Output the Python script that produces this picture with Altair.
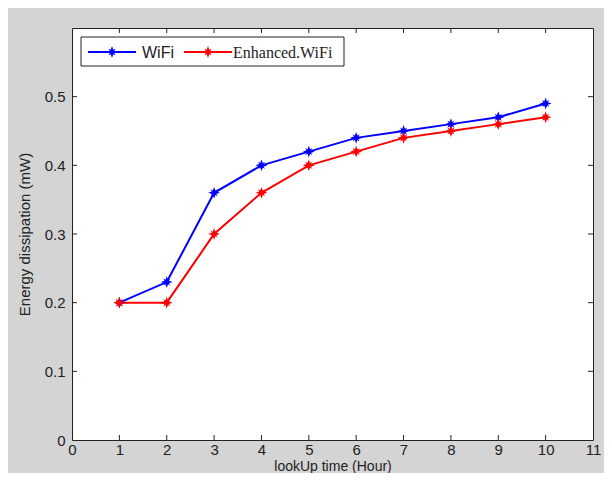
import altair as alt
import pandas as pd

# ---- data ----
hours = [1, 2, 3, 4, 5, 6, 7, 8, 9, 10]
wifi = [0.20, 0.23, 0.36, 0.40, 0.42, 0.44, 0.45, 0.46, 0.47, 0.49]
enhanced = [0.20, 0.20, 0.30, 0.36, 0.40, 0.42, 0.44, 0.45, 0.46, 0.47]
series_names = ["WiFi", "Enhanced.WiFi"]
series_colors = ["#0000ff", "#ff0000"]
x_ticks = [0, 1, 2, 3, 4, 5, 6, 7, 8, 9, 10, 11]
y_labels = [0, 0.1, 0.2, 0.3, 0.4, 0.5]
y_ticks = [0.1, 0.2, 0.3, 0.4, 0.5]

W, H = 521, 412
TICK = 5
STAR = ("M0,-1L0.22,-0.38L0.6,-0.6L0.38,-0.22L1,0L0.38,0.22L0.6,0.6L0.22,0.38"
        "L0,1L-0.22,0.38L-0.6,0.6L-0.38,0.22L-1,0L-0.38,-0.22L-0.6,-0.6L-0.22,-0.38Z")
FONT = "Liberation Sans"
MSIZE = 140

df = pd.DataFrame({
    "hour": hours * 2,
    "energy": wifi + enhanced,
    "series": [series_names[0]] * len(hours) + [series_names[1]] * len(hours),
})

xs = alt.Scale(domain=[0, 11], nice=False, zero=False)
ys = alt.Scale(domain=[0, 0.6], nice=False)
cs = alt.Scale(domain=series_names, range=series_colors)

x_axis = alt.Axis(values=x_ticks, tickSize=0, domain=False, grid=False,
                  labelPadding=2, labelAngle=0, labelFlush=False,
                  labelFont=FONT, labelFontSize=15, labelColor="#222222",
                  title="lookUp time (Hour)", titleFont=FONT, titleFontSize=14,
                  titleFontWeight="normal", titleColor="#222222",
                  titleY=33, titleBaseline="bottom")
y_axis = alt.Axis(values=y_labels, format=".1~f", tickSize=0, domain=False,
                  grid=False, labelPadding=7, labelFlush=False,
                  labelFont=FONT, labelFontSize=15, labelColor="#222222",
                  title="Energy dissipation (mW)", titleFont=FONT,
                  titleFontSize=15, titleFontWeight="normal", titleColor="#222222",
                  titleX=-48, titleY=H / 2, titleAngle=270,
                  titleBaseline="middle", titleAlign="center")

base = alt.Chart(df)
lines = base.mark_line(strokeWidth=2).encode(
    x=alt.X("hour:Q", scale=xs, axis=x_axis),
    y=alt.Y("energy:Q", scale=ys, axis=y_axis),
    color=alt.Color("series:N", scale=cs, legend=None),
    detail="series:N",
)
points = base.mark_point(shape=STAR, filled=True, size=MSIZE, opacity=1).encode(
    x=alt.X("hour:Q", scale=xs, axis=x_axis),
    y=alt.Y("energy:Q", scale=ys, axis=y_axis),
    color=alt.Color("series:N", scale=cs, legend=None),
)

xt = pd.DataFrame({"hour": x_ticks[1:-1]})
yt = pd.DataFrame({"energy": y_ticks})
tick_style = dict(color="#222222", strokeWidth=1)
ticks_bottom = alt.Chart(xt).mark_rule(**tick_style).encode(
    x=alt.X("hour:Q", scale=xs, axis=x_axis), y=alt.value(H), y2=alt.value(H - TICK))
ticks_top = alt.Chart(xt).mark_rule(**tick_style).encode(
    x=alt.X("hour:Q", scale=xs, axis=x_axis), y=alt.value(0), y2=alt.value(TICK))
ticks_left = alt.Chart(yt).mark_rule(**tick_style).encode(
    y=alt.Y("energy:Q", scale=ys, axis=y_axis), x=alt.value(0), x2=alt.value(TICK))
ticks_right = alt.Chart(yt).mark_rule(**tick_style).encode(
    y=alt.Y("energy:Q", scale=ys, axis=y_axis), x=alt.value(W), x2=alt.value(W - TICK))

# ---- legend box ----
leg_df = pd.DataFrame({"series": series_names})
leg_box = alt.Chart(leg_df.head(1)).mark_rect(
    fill="white", stroke="#222222", strokeWidth=1).encode(
    x=alt.value(9), x2=alt.value(272), y=alt.value(9), y2=alt.value(38))

legend_layers = [leg_box]
leg_pos = [(16, 64, 40, 70, FONT, 16), (112, 160, 136, 161, "Liberation Serif", 16)]
LY = 24
for i, name in enumerate(series_names):
    d = alt.Chart(pd.DataFrame({"series": [name]}))
    x1, x2, xm, xtxt, fnt, fs = leg_pos[i]
    col = alt.Color("series:N", scale=cs, legend=None)
    legend_layers.append(d.mark_rule(strokeWidth=2).encode(
        x=alt.value(x1), x2=alt.value(x2), y=alt.value(LY), color=col))
    legend_layers.append(d.mark_point(shape=STAR, filled=True, size=MSIZE, opacity=1).encode(
        x=alt.value(xm), y=alt.value(LY), color=col))
    legend_layers.append(d.mark_text(align="left", baseline="middle", font=fnt,
                                     fontSize=fs, color="#222222").encode(
        x=alt.value(xtxt), y=alt.value(LY + 1), text="series:N"))

chart = alt.layer(
    lines, points, ticks_bottom, ticks_top, ticks_left, ticks_right, *legend_layers
).properties(
    width=W, height=H,
    autosize=alt.AutoSizeParams(type="none"),
    padding={"left": 64, "top": 20, "right": 11, "bottom": 33},
).configure(background="#d4d4d4").configure_view(
    fill="white", stroke="#222222", strokeWidth=1
)

chart.save("out.html", embed_options={"renderer": "svg", "actions": False})
